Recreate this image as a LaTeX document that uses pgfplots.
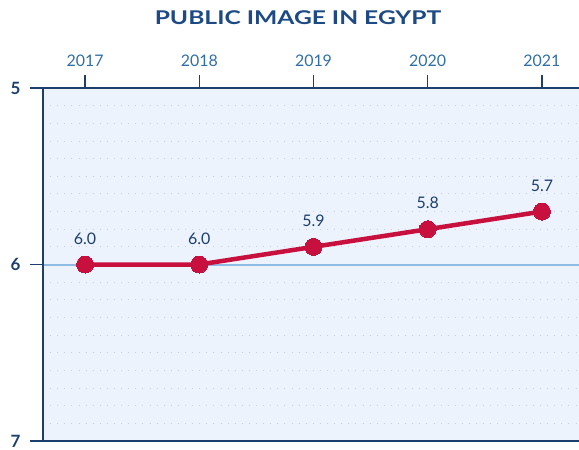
\documentclass[border=0pt]{standalone}
\usepackage{fontspec}
\setmainfont{Lato}
\usepackage{pgfplots}
\pgfplotsset{compat=1.18}

\definecolor{navy}{HTML}{1C3F6E}
\definecolor{titleblue}{HTML}{1D4A85}
\definecolor{tickblue}{HTML}{2F6FA5}
\definecolor{bgblue}{HTML}{EDF3FC}
\definecolor{gridblue}{HTML}{8FBBE3}
\definecolor{dotgray}{HTML}{C6CFDB}
\definecolor{crimson}{HTML}{C8103E}

\begin{document}
\begin{tikzpicture}
\useasboundingbox (0,0) rectangle (579bp,450bp);
\node[font=\fontsize{19}{21}\selectfont\bfseries, text=titleblue] at (298bp,432bp) {\scalebox{1.3}[1.0]{PUBLIC IMAGE IN EGYPT}};
\begin{axis}[
    at={(43bp,9bp)}, anchor=south west,
    scale only axis,
    width=545bp, height=353bp,
    xmin=2016.632, xmax=2021.403,
    ymin=5, ymax=7,
    y dir=reverse,
    xtick={2017,2018,2019,2020,2021},
    ytick={5,6,7},
    minor ytick={5.1,5.2,...,6.95},
    xtick pos=right, xticklabel pos=right,
    ytick pos=left,
    tick align=outside,
    major tick length=13bp,
    minor tick length=0pt,
    /pgf/number format/assume math mode=true,
    x tick label style={/pgf/number format/1000 sep={}, font=\fontsize{16}{18}\selectfont, text=tickblue, yshift=5bp},
    y tick label style={font=\fontsize{17}{19}\selectfont\bfseries, text=navy, xshift=-6bp},
    xtick style={draw=navy, line width=1.5bp},
    ytick style={draw=navy, line width=1.5bp},
    axis line style={draw=navy, line width=1.5bp},
    axis background/.style={fill=bgblue},
    ymajorgrids, yminorgrids,
    major grid style={draw=gridblue, line width=2bp},
    minor grid style={draw=dotgray, line width=0.9bp, dash pattern=on 0.9bp off 6.2bp},
    nodes near coords,
    point meta=explicit symbolic,
    every node near coord/.append style={font=\fontsize{16}{18}\selectfont, text=navy, anchor=south, yshift=17bp},
    clip=false,
]
\addplot[draw=crimson, line width=4.5bp, mark=*, mark size=8.5bp, mark options={fill=crimson, draw=crimson, line width=0pt}]
  coordinates {
    (2017,6.0) [6.0]
    (2018,6.0) [6.0]
    (2019,5.9) [5.9]
    (2020,5.8) [5.8]
    (2021,5.7) [5.7]
  };
\end{axis}
\end{tikzpicture}
\end{document}
